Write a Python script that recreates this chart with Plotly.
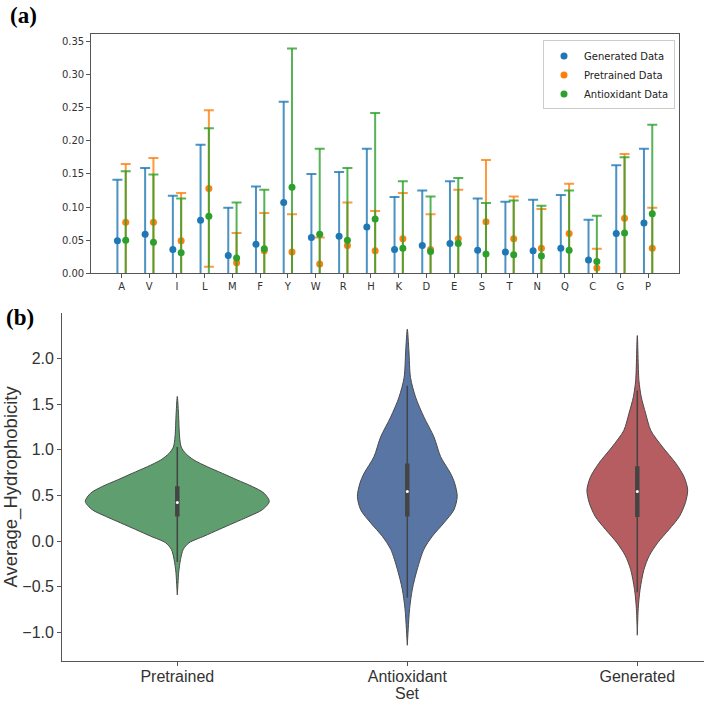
import numpy as np
import plotly.graph_objects as go

# ---------------- Panel (a) data ----------------
amino = ["A", "V", "I", "L", "M", "F", "Y", "W", "R", "H",
         "K", "D", "E", "S", "T", "N", "Q", "C", "G", "P"]

gen_mean = [0.049, 0.059, 0.036, 0.080, 0.027, 0.044, 0.107, 0.054, 0.056, 0.070,
            0.036, 0.042, 0.045, 0.035, 0.032, 0.034, 0.038, 0.020, 0.060, 0.076]
gen_upper = [0.141, 0.159, 0.117, 0.194, 0.099, 0.131, 0.259, 0.150, 0.153, 0.188,
             0.115, 0.125, 0.139, 0.113, 0.108, 0.111, 0.118, 0.081, 0.163, 0.188]

pre_mean = [0.077, 0.077, 0.049, 0.128, 0.016, 0.034, 0.032, 0.014, 0.042, 0.034,
            0.052, 0.036, 0.052, 0.078, 0.052, 0.038, 0.060, 0.008, 0.083, 0.038]
pre_upper = [0.165, 0.174, 0.121, 0.246, 0.061, 0.091, 0.089, 0.054, 0.107, 0.094,
             0.121, 0.089, 0.126, 0.171, 0.116, 0.097, 0.135, 0.037, 0.180, 0.099]

anti_mean = [0.050, 0.047, 0.031, 0.086, 0.023, 0.037, 0.130, 0.059, 0.050, 0.082,
             0.038, 0.033, 0.045, 0.029, 0.028, 0.026, 0.035, 0.018, 0.061, 0.090]
anti_upper = [0.154, 0.149, 0.113, 0.219, 0.107, 0.126, 0.339, 0.188, 0.159, 0.242,
              0.139, 0.116, 0.144, 0.106, 0.110, 0.102, 0.125, 0.087, 0.175, 0.224]

series_names = ["Generated Data", "Pretrained Data", "Antioxidant Data"]

# ---------------- Panel (b) data ----------------
sets = ["Pretrained", "Antioxidant", "Generated"]

pre_y = [1.584, 1.40, 1.14, 1.03, 0.96, 0.888, 0.815, 0.742, 0.67, 0.598, 0.525, 0.435,
         0.344, 0.272, 0.199, 0.127, 0.054, -0.018, -0.09, -0.20, -0.34, -0.46, -0.59]
pre_hw = [0.0, 0.005, 0.010, 0.017, 0.036, 0.072, 0.13, 0.196, 0.26, 0.326, 0.377, 0.40,
          0.37, 0.312, 0.246, 0.181, 0.116, 0.051, 0.026, 0.014, 0.006, 0.003, 0.0]

anti_y = [2.32, 2.08, 1.79, 1.576, 1.36, 1.14, 0.924, 0.742, 0.634, 0.49, 0.344, 0.199,
          0.054, -0.09, -0.31, -0.525, -0.74, -0.96, -1.14]
anti_hw = [0.0, 0.007, 0.014, 0.036, 0.072, 0.116, 0.145, 0.188, 0.206, 0.217, 0.203, 0.159,
           0.109, 0.072, 0.043, 0.022, 0.010, 0.004, 0.0]

gen_y = [2.25, 1.76, 1.58, 1.40, 1.21, 1.03, 0.85, 0.70, 0.56, 0.42, 0.27, 0.13,
         -0.02, -0.16, -0.31, -0.53, -0.74, -1.03]
gen_hw = [0.0, 0.007, 0.017, 0.036, 0.059, 0.110, 0.168, 0.204, 0.219, 0.209, 0.183, 0.139,
          0.088, 0.052, 0.029, 0.012, 0.004, 0.0]

box_q1 = [0.27, 0.27, 0.264]
box_med = [0.424, 0.543, 0.543]
box_q3 = [0.60, 0.851, 0.82]
whisk_lo = [-0.23, -0.62, -0.56]
whisk_hi = [1.03, 1.70, 1.65]

violin_colors = ["#5f9e6e", "#5975a4", "#b55d60"]

# ---------------- Figure ----------------
fig = go.Figure()

colors = ["#1f77b4", "#ff7f0e", "#2ca02c"]
err_colors = ["rgba(31,119,180,0.8)", "rgba(255,127,14,0.8)", "rgba(44,160,44,0.8)"]
offsets = [-0.15, 0.15, 0.15]
cap_half = 0.18
means = [gen_mean, pre_mean, anti_mean]
uppers = [gen_upper, pre_upper, anti_upper]
idx = np.arange(len(amino))

for k in range(3):
    m = np.array(means[k])
    hi = np.array(uppers[k])
    lo = m - (hi - m)
    xc = idx + offsets[k]
    ex, ey = [], []
    for j in range(len(amino)):
        ex += [xc[j], xc[j], None]
        ey += [lo[j], hi[j], None]
        ex += [xc[j] - cap_half, xc[j] + cap_half, None, xc[j] - cap_half, xc[j] + cap_half, None]
        ey += [hi[j], hi[j], None, lo[j], lo[j], None]
    fig.add_trace(go.Scatter(
        x=ex, y=ey, mode="lines", line=dict(color=err_colors[k], width=2),
        showlegend=False, hoverinfo="skip", xaxis="x", yaxis="y"))
    fig.add_trace(go.Scatter(
        x=xc, y=m, mode="markers", name=series_names[k],
        marker=dict(size=7, color=colors[k]),
        xaxis="x", yaxis="y"))

profiles = [(pre_y, pre_hw), (anti_y, anti_hw), (gen_y, gen_hw)]
for i, (yv, hw) in enumerate(profiles):
    yv = np.array(yv)
    hw = np.array(hw)
    xs = np.concatenate([i + hw, (i - hw)[::-1]])
    ys = np.concatenate([yv, yv[::-1]])
    fig.add_trace(go.Scatter(
        x=xs, y=ys, mode="lines", fill="toself", fillcolor=violin_colors[i],
        line=dict(color="#4a4a4a", width=1, shape="spline", smoothing=0.8),
        showlegend=False, hoverinfo="skip", xaxis="x2", yaxis="y2"))
    fig.add_trace(go.Scatter(
        x=[i, i], y=[whisk_lo[i], whisk_hi[i]], mode="lines",
        line=dict(color="#444444", width=1.5),
        showlegend=False, hoverinfo="skip", xaxis="x2", yaxis="y2"))
    fig.add_trace(go.Scatter(
        x=[i, i], y=[box_q1[i], box_q3[i]], mode="lines",
        line=dict(color="#444444", width=4.5),
        showlegend=False, hoverinfo="skip", xaxis="x2", yaxis="y2"))
    fig.add_trace(go.Scatter(
        x=[i], y=[box_med[i]], mode="markers",
        marker=dict(color="white", size=3),
        showlegend=False, hoverinfo="skip", xaxis="x2", yaxis="y2"))

axcol = "#555555"
fig.update_layout(
    width=704, height=708,
    margin=dict(l=0, r=0, t=0, b=0),
    paper_bgcolor="white", plot_bgcolor="white",
    font=dict(family="DejaVu Sans", color="#333333"),
    xaxis=dict(domain=[0.1288, 0.9645], anchor="y", range=[-1.115, 20.115],
               tickvals=list(idx), ticktext=amino, showgrid=False, zeroline=False,
               showline=True, mirror=True, linecolor=axcol, linewidth=1,
               ticks="outside", ticklen=3.5, tickcolor=axcol,
               tickfont=dict(family="DejaVu Sans", size=10, color="#333333")),
    yaxis=dict(domain=[0.6112, 0.9516], anchor="x", range=[0, 0.361],
               tickvals=[0, 0.05, 0.10, 0.15, 0.20, 0.25, 0.30, 0.35], tickformat=".2f",
               showgrid=False, zeroline=False,
               showline=True, mirror=True, linecolor=axcol, linewidth=1,
               ticks="outside", ticklen=3.5, tickcolor=axcol,
               tickfont=dict(family="DejaVu Sans", size=10, color="#333333")),
    xaxis2=dict(domain=[0.0885, 1.0], anchor="y2", range=[-0.5, 2.29],
                tickvals=[0, 1, 2], ticktext=sets, showgrid=False, zeroline=False,
                showline=True, linecolor=axcol, linewidth=1.3,
                ticks="outside", ticklen=4, tickcolor=axcol, ticklabelstandoff=-3,
                tickfont=dict(family="Liberation Sans", size=16, color="#333333")),
    yaxis2=dict(domain=[0.0598, 0.5551], anchor="x2", range=[-1.312, 2.5],
                tickvals=[-1.0, -0.5, 0.0, 0.5, 1.0, 1.5, 2.0], tickformat=".1f",
                showgrid=False, zeroline=False,
                showline=True, linecolor=axcol, linewidth=1.3,
                ticks="outside", ticklen=4, tickcolor=axcol,
                tickfont=dict(family="Liberation Sans", size=16, color="#333333"),
                title=dict(text="Average_Hydrophobicity",
                           font=dict(family="Liberation Sans", size=18.5, color="#333333"),
                           standoff=4)),
    legend=dict(x=0.9588, xanchor="right", y=0.9425, yanchor="top",
                bgcolor="rgba(255,255,255,0.9)", bordercolor="#cccccc", borderwidth=1,
                font=dict(family="DejaVu Sans", size=10, color="#222222"),
                tracegroupgap=0, itemwidth=30),
    annotations=[
        dict(text="<b>(a)</b>", x=23 / 704, y=1 - 15.5 / 708, xref="paper", yref="paper",
             showarrow=False, xanchor="center", yanchor="middle",
             font=dict(family="Liberation Serif", size=23, color="black")),
        dict(text="<b>(b)</b>", x=20 / 704, y=1 - 320 / 708, xref="paper", yref="paper",
             showarrow=False, xanchor="center", yanchor="middle",
             font=dict(family="Liberation Serif", size=23, color="black")),
        dict(text="Set", x=1, y=0, xref="x2", yref="paper",
             showarrow=False, xanchor="center", yanchor="bottom", borderpad=0,
             font=dict(family="Liberation Sans", size=16, color="#333333")),
    ],
)

fig.write_html("out.html", config={"displayModeBar": False},
               post_script="document.body.style.margin='0';document.body.style.overflow='hidden';")
